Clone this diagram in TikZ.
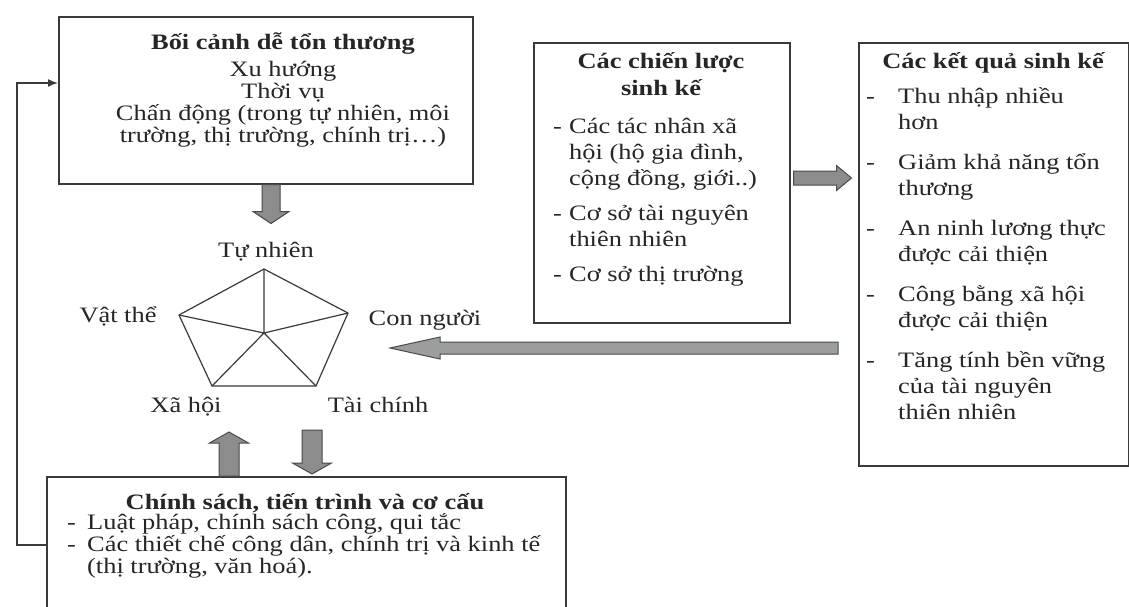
\documentclass[tikz,border=0pt]{standalone}
\usepackage{fontspec}
\setmainfont{Liberation Serif}[FakeStretch=1.2]
\usetikzlibrary{calc,arrows.meta}
\definecolor{lineC}{HTML}{3A3A3A}
\definecolor{txtC}{HTML}{262626}
\definecolor{arrFill}{HTML}{8C8C8C}
\definecolor{arrFillL}{HTML}{9A9E9E}
\definecolor{arrDraw}{HTML}{4A4A4A}
\newlength\dw
\newcommand{\itm}{\makebox[\dw][l]{-}}
\newcommand{\ind}{\hspace*{\dw}}
\newcommand{\fl}{\rule{0pt}{22pt}}
\newcommand{\BArrow}[7][]{%
  \begin{scope}[shift={#2},rotate=#3]
    \filldraw[barrow,#1] (0,-#4) -- ({#6-#7},-#4) -- ({#6-#7},-#5) -- (#6,0)
      -- ({#6-#7},#5) -- ({#6-#7},#4) -- (0,#4) -- cycle;
  \end{scope}}
\begin{document}
\begin{tikzpicture}[x=1pt,y=-1pt,
  box/.style={draw=lineC, line width=1.5pt, fill=white, inner sep=0pt, anchor=north west},
  txtA/.style={inner sep=0pt, text=txtC, font={\fontsize{22}{22}\selectfont\lineskiplimit=-50pt}},
  txtB/.style={inner sep=0pt, text=txtC, font={\fontsize{22}{26}\selectfont\lineskiplimit=-50pt}},
  hd/.style={inner sep=0pt, text=txtC, font={\fontsize{22}{27}\selectfont\bfseries\lineskiplimit=-50pt}},
  lbl/.style={inner sep=0pt, anchor=base, text=txtC, font={\fontsize{22}{22}\selectfont}},
  barrow/.style={fill=arrFill, draw=arrDraw, line width=1pt, line join=miter},
  pent/.style={draw=lineC, line width=1.2pt, line join=round},
  fb/.style={draw=lineC, line width=1.5pt, -{Latex[length=10pt,width=8pt]}}]
\useasboundingbox (0,0) rectangle (1129,606);
\clip (0,0) rectangle (1129,606);
\fill[white] (0,0) rectangle (1129,606);

% boxes
\node[box, minimum width=414, minimum height=167] (tl) at (58,16) {};
\node[box, minimum width=256, minimum height=280] (mid) at (533,42) {};
\node[box, minimum width=270, minimum height=423] (res) at (858,42) {};
\node[box, minimum width=519, minimum height=170] (pol) at (46,476) {};

% top-left box text
\node[txtA, anchor=north, align=center] (tltext) at (283,27)
  {\fl\textbf{Bối cảnh dễ tổn thương}\\[5pt] Xu hướng\\ Thời vụ\\ Chấn động (trong tự nhiên, môi\\ trường, thị trường, chính trị…)};

% middle box text
\node[hd, anchor=north, align=center] (midtitle) at (661,46) {\fl Các chiến lược\\ sinh kế};
\node[txtB, anchor=north west, align=left] (midbody) at (553,111)
  {\global\dw=16pt\fl\itm Các tác nhân xã\\ \ind hội (hộ gia đình,\\ \ind cộng đồng, giới..)\\[9pt]
   \itm Cơ sở tài nguyên\\ \ind thiên nhiên\\[9pt] \itm Cơ sở thị trường};

% right box text
\node[hd, anchor=north, align=center] (restitle) at (993,46) {\fl Các kết quả sinh kế};
\node[txtB, anchor=north west, align=left] (resbody) at (866,81)
  {\global\dw=32pt\fl\itm Thu nhập nhiều\\ \ind hơn\\[14pt]
   \itm Giảm khả năng tổn\\ \ind thương\\[14pt]
   \itm An ninh lương thực\\ \ind được cải thiện\\[14pt]
   \itm Công bằng xã hội\\ \ind được cải thiện\\[14pt]
   \itm Tăng tính bền vững\\ \ind của tài nguyên\\ \ind thiên nhiên};

% bottom box text
\node[hd, anchor=north, align=center] (poltitle) at (305,487) {\fl Chính sách, tiến trình và cơ cấu};
\node[txtA, anchor=north west, align=left] (polbody) at (67,507)
  {\global\dw=20pt\fl\itm Luật pháp, chính sách công, qui tắc\\
   \itm Các thiết chế công dân, chính trị và kinh tế\\ \ind (thị trường, văn hoá).};

% pentagon
\coordinate (pT) at (264,269);
\coordinate (pR) at (348,313);
\coordinate (pBR) at (316,386);
\coordinate (pBL) at (212,386);
\coordinate (pL) at (179,315);
\coordinate (pC) at (264,333);
\draw[pent] (pT) -- (pR) -- (pBR) -- (pBL) -- (pL) -- cycle;
\draw[pent] (pC) -- (pT) (pC) -- (pR) (pC) -- (pBR) (pC) -- (pBL) (pC) -- (pL);

\node[lbl] (lTN) at (266,257) {Tự nhiên};
\node[lbl] (lVT) at (118,322) {Vật thể};
\node[lbl] (lCN) at (425,325) {Con người};
\node[lbl] (lXH) at (186,412) {Xã hội};
\node[lbl] (lTC) at (378,412) {Tài chính};

% block arrows
\BArrow{($(tl.south west)+(213,0)$)}{-90}{9}{18}{39}{12}
\BArrow{($(pol.north west)+(183,0)$)}{90}{10}{19.5}{44}{11}
\BArrow{($(pol.north west)+(266,-46)$)}{-90}{10}{19.5}{44}{11}
\BArrow{($(mid.north east)+(3,136)$)}{0}{7}{12.5}{58}{15}
\BArrow[fill=arrFillL]{($(res.north west)+(-20,306)$)}{180}{6}{11}{448}{50}

% feedback connector
\coordinate (fbA) at (17,545);
\coordinate (fbB) at (17,83);
\draw[fb] (pol.west |- fbA) -- (fbA) -- (fbB) -- (tl.west |- fbB);
\end{tikzpicture}
\end{document}
